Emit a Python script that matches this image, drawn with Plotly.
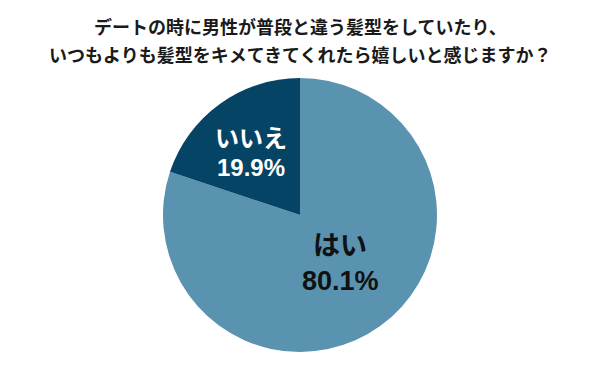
import plotly.graph_objects as go

labels = ["はい", "いいえ"]
values = [80.1, 19.9]
colors = ["#5a93b0", "#054465"]
text_colors = ["#111111", "#ffffff"]
title_lines = ["デートの時に男性が普段と違う髪型をしていたり、",
               "いつもよりも髪型をキメてきてくれたら嬉しいと感じますか？"]

W, H = 600, 371
cx, cy, r = 300, 215, 137

fig = go.Figure(go.Pie(
    labels=labels, values=values, sort=False, direction="clockwise", rotation=0,
    marker=dict(colors=colors, line=dict(width=0)),
    textinfo="none", hoverinfo="label+percent", showlegend=False,
    domain=dict(x=[(cx - r) / W, (cx + r) / W], y=[1 - (cy + r) / H, 1 - (cy - r) / H]),
))

font = "Liberation Sans, Noto Sans CJK JP"
label_pos = [(340, 246, 281, 27), (251, 138, 167, 24)]
for lab, val, tc, (x, y1, y2, fs) in zip(labels, values, text_colors, label_pos):
    for txt, yy in ((lab, y1), (f"{val:.1f}%", y2)):
        fig.add_annotation(x=x / W, y=1 - yy / H, xref="paper", yref="paper",
                           text=f"<b>{txt}</b>", showarrow=False, yanchor="middle",
                           font=dict(family=font, size=fs, color=tc), align="center")

for line, yy in zip(title_lines, (27, 55)):
    fig.add_annotation(x=0.5, y=1 - yy / H, xref="paper", yref="paper",
                       text="<b>" + line + "</b>", showarrow=False, yanchor="middle",
                       font=dict(family=font, size=18, color="#1a1a1a"), align="center")

fig.update_layout(width=W, height=H, margin=dict(l=0, r=0, t=0, b=0),
                  paper_bgcolor="white", plot_bgcolor="white")
fig.write_html("out.html", config={"displayModeBar": False},
               post_script="document.body.style.margin='0';")
